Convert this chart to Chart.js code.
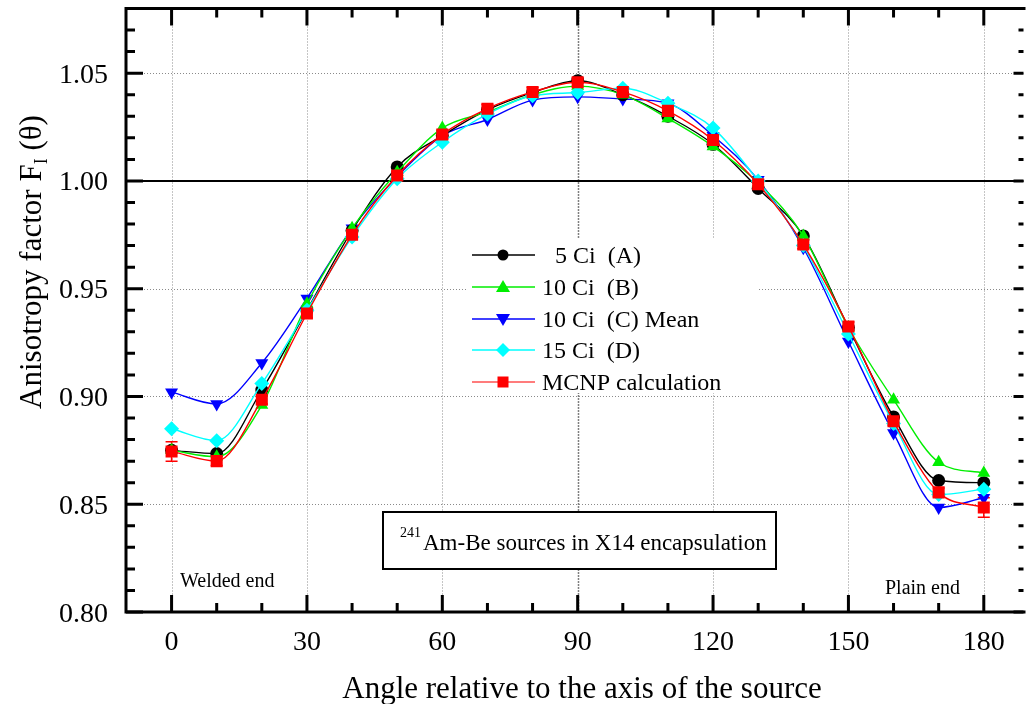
<!DOCTYPE html>
<html>
<head>
<meta charset="utf-8">
<script src="https://cdn.jsdelivr.net/npm/chart.js@4.4.1/dist/chart.umd.min.js"></script>
<style>
  html, body { margin: 0; padding: 0; background: #fff; }
  #wrap { width: 1032px; height: 704px; }
</style>
</head>
<body>
<div id="wrap"><canvas id="c" width="1032" height="704"></canvas></div>
<script>
// ---------- data ----------
const angles = [0, 10, 20, 30, 40, 50, 60, 70, 80, 90, 100, 110, 120, 130, 140, 150, 160, 170, 180];
const src5A   = [0.875, 0.8735, 0.903, 0.940, 0.977, 1.0065, 1.021, 1.033, 1.041, 1.0465, 1.040, 1.030, 1.017, 0.9965, 0.9745, 0.932, 0.8905, 0.861, 0.860];
const src10B  = [0.875, 0.872, 0.896, 0.943, 0.978, 1.004, 1.0245, 1.032, 1.040, 1.044, 1.040, 1.029, 1.016, 0.999, 0.9745, 0.932, 0.8985, 0.8695, 0.8645];
const src10C  = [0.902, 0.8965, 0.9155, 0.9455, 0.978, 1.002, 1.021, 1.0285, 1.0375, 1.039, 1.038, 1.036, 1.021, 1.0005, 0.969, 0.9255, 0.883, 0.8485, 0.853];
const src15D  = [0.885, 0.8795, 0.906, 0.940, 0.974, 1.001, 1.018, 1.031, 1.0395, 1.041, 1.043, 1.036, 1.0245, 1.000, 0.970, 0.929, 0.8875, 0.8545, 0.857];
const mcnp    = [0.8745, 0.870, 0.8985, 0.9385, 0.975, 1.0025, 1.0215, 1.0335, 1.0413, 1.0458, 1.0413, 1.0325, 1.019, 0.9985, 0.9705, 0.9325, 0.8885, 0.8555, 0.8485];
const mcnpErr = [0.0045, 0.002, 0.002, 0.002, 0.002, 0.002, 0.002, 0.002, 0.002, 0.002, 0.002, 0.002, 0.002, 0.002, 0.002, 0.002, 0.002, 0.002, 0.0045];
const xTicks = [0, 30, 60, 90, 120, 150, 180];
const yTicks = [0.80, 0.85, 0.90, 0.95, 1.00, 1.05];
const seriesLabels = ['5 Ci  (A)', '10 Ci  (B)', '10 Ci  (C) Mean', '15 Ci  (D)', 'MCNP calculation'];
const xTitle = 'Angle relative to the axis of the source';
const yTitleMain = 'Anisotropy factor F';
const yTitleSub = 'I';
const yTitleEnd = ' (\u03B8)';
const boxSup = '241';
const boxText = 'Am-Be sources in X14 encapsulation';
const leftNote = 'Welded end';
const rightNote = 'Plain end';

const FONT = '"Liberation Serif", "DejaVu Serif", serif';
const pts = v => angles.map((a, i) => ({ x: a, y: v[i] }));

const styles = [
  { color: '#000000', style: 'circle', r: 6.5, rot: 0, order: 3 },
  { color: '#00ee00', style: 'triangle', r: 7.5, rot: 0, order: 2 },
  { color: '#0000ff', style: 'triangle', r: 7.5, rot: 180, order: 4 },
  { color: '#00ffff', style: 'rectRot', r: 7.5, rot: 0, order: 1 },
  { color: '#ff0000', style: 'rect', r: 8.5, rot: 0, order: 0 }
];
const seriesData = [src5A, src10B, src10C, src15D, mcnp];

const datasets = seriesData.map((d, i) => ({
  label: seriesLabels[i],
  data: pts(d),
  borderColor: styles[i].color,
  backgroundColor: styles[i].color,
  pointBackgroundColor: styles[i].color,
  pointBorderColor: styles[i].color,
  pointBorderWidth: 0,
  pointStyle: styles[i].style,
  pointRadius: styles[i].r,
  pointRotation: styles[i].rot,
  borderWidth: 1.4,
  cubicInterpolationMode: 'monotone',
  order: styles[i].order
}));

function drawText(ctx, s, x, y, size, align) {
  ctx.font = size + 'px ' + FONT;
  ctx.textAlign = align || 'left';
  ctx.textBaseline = 'alphabetic';
  ctx.fillStyle = '#000';
  ctx.fillText(s, x, y);
}

function legendMarker(ctx, kind, x, y, color) {
  ctx.fillStyle = color;
  ctx.beginPath();
  if (kind === 0) { ctx.arc(x, y, 5.5, 0, Math.PI * 2); }
  else if (kind === 1) { ctx.moveTo(x, y - 7); ctx.lineTo(x + 7, y + 5); ctx.lineTo(x - 7, y + 5); ctx.closePath(); }
  else if (kind === 2) { ctx.moveTo(x, y + 7); ctx.lineTo(x + 7, y - 5); ctx.lineTo(x - 7, y - 5); ctx.closePath(); }
  else if (kind === 3) { ctx.moveTo(x, y - 7); ctx.lineTo(x + 7, y); ctx.lineTo(x, y + 7); ctx.lineTo(x - 7, y); ctx.closePath(); }
  else { ctx.rect(x - 5.5, y - 5.5, 11, 11); }
  ctx.fill();
}

const decor = {
  id: 'decor',
  beforeDatasetsDraw(chart) {
    const { ctx, chartArea: a, scales: { x, y } } = chart;
    ctx.save();
    ctx.lineWidth = 1;
    ctx.setLineDash([1, 2]);
    xTicks.forEach(v => {
      const px = Math.round(x.getPixelForValue(v)) + 0.5;
      ctx.strokeStyle = v === 90 ? '#000' : '#8a8a8a';
      ctx.lineWidth = v === 90 ? 1.5 : 1;
      ctx.beginPath(); ctx.moveTo(px, a.top); ctx.lineTo(px, a.bottom); ctx.stroke();
    });
    ctx.strokeStyle = '#8a8a8a'; ctx.lineWidth = 1;
    yTicks.forEach(v => {
      if (v === 0.80) return;
      const py = Math.round(y.getPixelForValue(v)) + 0.5;
      ctx.beginPath(); ctx.moveTo(a.left, py); ctx.lineTo(a.right, py); ctx.stroke();
    });
    ctx.setLineDash([]);
    const p1 = y.getPixelForValue(1.00);
    ctx.strokeStyle = '#000'; ctx.lineWidth = 2;
    ctx.beginPath(); ctx.moveTo(a.left, p1); ctx.lineTo(a.right, p1); ctx.stroke();
    ctx.strokeStyle = '#ff0000'; ctx.lineWidth = 1.5;
    angles.forEach((ang, i) => {
      const px = x.getPixelForValue(ang);
      const top = y.getPixelForValue(mcnp[i] + mcnpErr[i]);
      const bot = y.getPixelForValue(mcnp[i] - mcnpErr[i]);
      ctx.beginPath();
      ctx.moveTo(px, top); ctx.lineTo(px, bot);
      ctx.moveTo(px - 6, top); ctx.lineTo(px + 6, top);
      ctx.moveTo(px - 6, bot); ctx.lineTo(px + 6, bot);
      ctx.stroke();
    });
    ctx.restore();
  },
  afterDatasetsDraw(chart) {
    const { ctx, chartArea: a, scales: { x, y } } = chart;
    ctx.save();
    ctx.strokeStyle = '#000'; ctx.lineWidth = 3; ctx.lineCap = 'butt';
    ctx.beginPath();
    ctx.moveTo(a.left, a.top); ctx.lineTo(a.right + 2, a.top);
    ctx.moveTo(a.left, a.top - 1.5); ctx.lineTo(a.left, a.bottom + 1.5);
    ctx.moveTo(a.left - 1.5, a.bottom); ctx.lineTo(a.right + 2, a.bottom);
    ctx.stroke();
    for (let v = 0; v <= 180; v += 10) {
      const px = x.getPixelForValue(v);
      const major = v % 30 === 0;
      const len = major ? 17 : 9;
      ctx.beginPath();
      ctx.moveTo(px, a.bottom); ctx.lineTo(px, a.bottom - len);
      ctx.moveTo(px, a.top); ctx.lineTo(px, a.top + len);
      ctx.stroke();
    }
    for (let k = 80; k <= 108; k++) {
      const v = k / 100;
      const py = y.getPixelForValue(v);
      const major = k % 5 === 0;
      ctx.beginPath();
      ctx.moveTo(a.left, py); ctx.lineTo(a.left + (major ? 17 : 9), py);
      ctx.moveTo(a.right, py); ctx.lineTo(a.right - (major ? 10 : 5), py);
      ctx.stroke();
    }
    xTicks.forEach(v => drawText(ctx, String(v), x.getPixelForValue(v), 650, 28, 'center'));
    yTicks.forEach(v => drawText(ctx, v.toFixed(2), 108, y.getPixelForValue(v) + 9.5, 28, 'right'));
    drawText(ctx, xTitle, 582, 698, 31, 'center');
    ctx.save();
    ctx.translate(41, 262);
    ctx.rotate(-Math.PI / 2);
    ctx.font = '31px ' + FONT;
    const w1 = ctx.measureText(yTitleMain).width;
    ctx.font = '18px ' + FONT;
    const w2 = ctx.measureText(yTitleSub).width;
    ctx.font = '31px ' + FONT;
    const w3 = ctx.measureText(yTitleEnd).width;
    let sx = -(w1 + w2 + w3) / 2;
    drawText(ctx, yTitleMain, sx, 0, 31, 'left');
    drawText(ctx, yTitleSub, sx + w1, 6, 18, 'left');
    drawText(ctx, yTitleEnd, sx + w1 + w2, 0, 31, 'left');
    ctx.restore();
    ctx.fillStyle = '#fff';
    ctx.fillRect(467, 238, 292, 155);
    const rows = [255, 287, 319, 350, 382];
    const textX = [555, 542, 542, 542, 542];
    seriesLabels.forEach((lab, i) => {
      const yy = rows[i];
      ctx.strokeStyle = i === 4 ? '#ff5050' : styles[i].color;
      ctx.lineWidth = 1.4;
      ctx.beginPath(); ctx.moveTo(472, yy); ctx.lineTo(535, yy); ctx.stroke();
      legendMarker(ctx, i, 503, yy, styles[i].color);
      drawText(ctx, lab, textX[i], yy + 8, 24, 'left');
    });
    ctx.fillStyle = '#fff';
    ctx.fillRect(383, 512, 393, 57);
    ctx.strokeStyle = '#000'; ctx.lineWidth = 2;
    ctx.strokeRect(383, 512, 393, 57);
    drawText(ctx, boxSup, 400, 537, 14, 'left');
    drawText(ctx, boxText, 423, 550, 23, 'left');
    drawText(ctx, leftNote, 180, 587, 20, 'left');
    drawText(ctx, rightNote, 885, 594, 20, 'left');
    ctx.restore();
  }
};

new Chart(document.getElementById('c'), {
  type: 'line',
  data: { datasets },
  options: {
    responsive: false,
    animation: false,
    devicePixelRatio: 1,
    layout: { padding: { top: 7, left: 0, right: 0, bottom: 0 } },
    plugins: { legend: { display: false }, tooltip: { enabled: false } },
    scales: {
      x: {
        type: 'linear', min: -10.1, max: 188.8,
        ticks: { display: false },
        grid: { display: false },
        border: { display: false },
        afterFit: s => { s.height = 92; }
      },
      y: {
        type: 'linear', min: 0.80, max: 1.08,
        ticks: { display: false },
        grid: { display: false },
        border: { display: false },
        afterFit: s => { s.width = 126; }
      }
    }
  },
  plugins: [decor]
});
</script>
</body>
</html>
